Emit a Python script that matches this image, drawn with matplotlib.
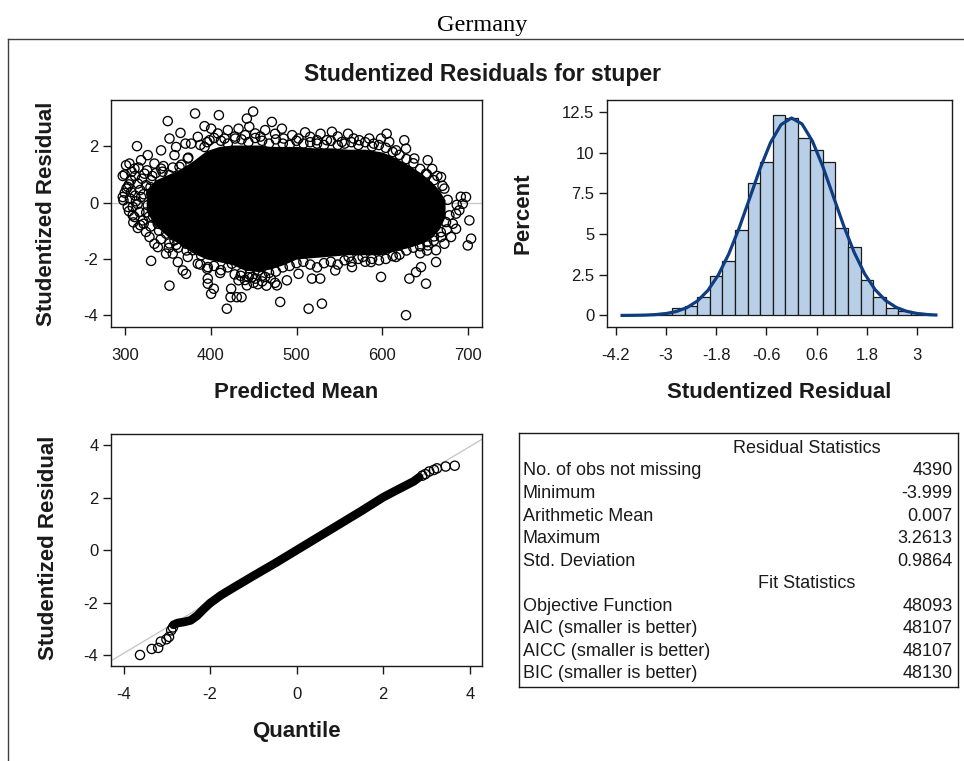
import matplotlib
matplotlib.use('Agg')
import matplotlib.pyplot as plt
from matplotlib.lines import Line2D

plt.rcParams['font.family'] = ['Liberation Sans', 'DejaVu Sans']
plt.rcParams['axes.unicode_minus'] = False

W, H = 964, 761

# ---------------- data ----------------
# residual vs predicted mean: solid black core (upper / lower edge)
core_x = [325, 335, 350, 365, 380, 395, 410, 425, 440, 455, 470, 485, 500,
          520, 540, 560, 580, 600, 615, 630, 645, 657, 666, 673]
core_hi = [0.4, 0.8, 1.0, 1.2, 1.5, 1.85, 2.0, 2.05, 2.05, 2.05, 2.0, 2.0,
           2.0, 1.95, 1.95, 1.9, 1.9, 1.8, 1.6, 1.35, 1.05, 0.75, 0.45, 0.1]
core_lo = [-0.3, -0.8, -1.2, -1.5, -1.8, -2.0, -2.1, -2.2, -2.4, -2.45,
           -2.35, -2.2, -2.0, -1.95, -1.9, -1.85, -1.85, -1.85, -1.7, -1.6,
           -1.45, -1.25, -0.95, -0.5]

# visible single points around the core
pred_top = [381.9, 409.6, 350.1, 449.5, 442.2, 471.3, 432.5, 463.5, 483, 485,
            502.4, 516, 541.3, 535.4, 552.9, 566.5, 451.9, 440.2, 428.6,
            523.8, 573.1, 584.7, 598.4, 608, 625.5, 627.5, 615.9, 637.2,
            652.8, 650.8, 668.3, 672.2, 314.3, 326.8, 352.1, 364.9, 370.7,
            392.9, 400.6, 342.3, 357.9, 363.8, 373.4, 352.1, 359.8, 377.3,
            385.1, 398.7, 408.4, 420, 416.2, 392.9, 445, 458, 475, 495, 510,
            528, 548, 560, 590, 605]
resid_top = [3.17, 3.11, 2.90, 3.24, 2.99, 2.87, 2.63, 2.58, 2.63, 2.28,
             2.28, 2.34, 2.52, 2.22, 2.16, 2.28, 2.46, 2.40, 2.28, 2.22,
             2.22, 2.28, 2.28, 2.16, 2.22, 1.92, 1.86, 1.57, 1.51, 1.03,
             0.91, 0.50, 2.01, 1.69, 2.28, 2.48, 2.10, 2.72, 2.63, 1.86,
             1.69, 1.27, 1.57, 0.98, 1.98, 2.10, 2.34, 2.22, 2.46, 2.58,
             2.28, 1.98, 2.70, 2.35, 2.45, 2.40, 2.50, 2.45, 2.35, 2.45,
             2.10, 2.45]

# crowded rim just above / below the solid core
pred_rim = [388, 396, 404, 412, 420, 428, 436, 444, 452, 460, 468, 476, 484,
            492, 500, 508, 516, 524, 532, 540, 548, 556, 564, 572, 580, 588,
            596, 604, 612, 620, 628, 636, 644, 652, 660]
resid_rim_hi = [2.05, 2.15, 2.3, 2.2, 2.1, 2.35, 2.25, 2.15, 2.3, 2.2, 2.1,
                2.25, 2.1, 2.05, 2.2, 2.1, 2.15, 2.1, 2.05, 2.2, 2.05, 2.1,
                2.15, 2.05, 2.15, 2.0, 2.05, 1.95, 1.8, 1.7, 1.55, 1.4, 1.2,
                1.0, 0.8]
resid_rim_lo = [-2.2, -2.35, -2.25, -2.4, -2.3, -2.55, -2.5, -2.65, -2.7,
                -2.6, -2.5, -2.45, -2.3, -2.25, -2.15, -2.1, -2.2, -2.3,
                -2.15, -2.1, -2.2, -2.05, -2.1, -2.0, -2.1, -2.0, -2.05, -2.0,
                -1.9, -1.85, -1.7, -1.6, -1.55, -1.4, -1.2]

pred_left = [297.7, 305.5, 298.5, 309.3, 315.2, 324.8, 334.6, 351.3, 303.5,
             309.3, 301.5, 311.3, 319, 323, 334.6, 342.3, 330.7, 315.2, 307.3,
             319, 303.5, 317.1, 326.8, 330.7, 321, 338.5, 348.1, 357.9, 363.8,
             297.7, 307.3, 324.8, 311.3, 328.8, 338.5, 348.1, 300, 312, 320,
             305, 318, 330, 300, 313, 322, 335, 305, 325, 315, 333, 318, 330,
             342, 302, 308, 316, 326, 336, 344, 356, 366, 374, 310, 322, 340,
             352, 362, 372, 328, 345, 360, 312, 306, 332]
resid_left = [0.95, 1.39, 0.085, -0.45, -0.90, -1.04, -1.46, -1.61, 0.56,
              -0.15, 1.33, 1.21, 1.51, 1.03, 1.39, 1.21, 0.80, 0.68, 0.38,
              0.20, -0.15, -0.33, -0.09, 0.32, -0.63, -0.75, -1.10, -1.34,
              -0.98, 0.20, 0.80, 0.62, -0.51, -1.22, -1.58, -1.81, 1.0, 0.95,
              0.85, 0.65, 0.45, 0.55, 0.35, 0.05, 0.3, 0.1, -0.3, -0.35,
              -0.05, -0.5, -0.8, -0.85, -1.3, 0.5, 1.1, 1.25, 1.15, 1.05,
              1.1, 1.25, 1.35, 1.6, -0.7, -0.75, -1.0, -1.45, -1.6, -1.7,
              -0.5, 1.3, -1.5, 0.25, 0.15, 0.95]

pred_low = [330.7, 352.1, 371.4, 396.7, 403.7, 411.1, 423.2, 418.9, 385.1,
            355.9, 371.4, 379.3, 373.4, 361.8, 388.9, 408.4, 396.7, 367.6,
            396.7, 400.6, 423.9, 481, 514.1, 529.6, 430.5, 436, 432.5, 442.2,
            477.2, 488.8, 518, 527.6, 545.1, 564.6, 463.5, 502.4, 455.8,
            424.7, 560.7, 440, 450, 460, 470, 445, 435, 455, 465, 448, 475]
resid_low = [-2.07, -2.95, -2.53, -2.70, -3.06, -2.50, -3.36, -3.77, -2.17,
             -1.81, -1.46, -1.69, -1.93, -2.11, -1.87, -1.81, -2.29, -2.41,
             -2.88, -3.24, -3.06, -3.53, -3.77, -3.59, -3.36, -3.36, -2.76,
             -2.94, -2.94, -2.76, -2.70, -2.70, -2.41, -2.29, -2.64, -2.53,
             -2.41, -2.17, -1.93, -2.75, -2.85, -2.8, -2.7, -2.55, -2.6,
             -2.9, -2.95, -2.65, -2.85]

pred_right = [697.4, 693.6, 689.6, 701.3, 685.8, 703.3, 699.4, 674.1, 680,
              672.2, 662.5, 645, 639.2, 631.4, 650.8, 598.4, 627.5, 662.5,
              652.8, 615.9, 586.7, 577, 668.3, 678, 685.8, 691.3, 686.6,
              676, 670, 664, 658, 682, 675, 668, 660, 652, 644]
resid_right = [0.20, -0.04, -0.27, -0.63, -0.93, -1.28, -1.52, -0.69, -1.22,
               -1.46, -2.11, -2.29, -2.47, -2.70, -2.88, -2.64, -4.0, -1.69,
               -1.52, -1.93, -2.11, -1.93, -1.22, -0.45, -0.39, 0.21, -0.08,
               0.1, 0.6, 0.95, 1.2, -0.75, -0.95, -1.05, -1.35, -1.7, -1.8]

# histogram of studentized residuals (percent), bin width 0.3
bin_left = [-4.05, -3.75, -3.45, -3.15, -2.85, -2.55, -2.25, -1.95, -1.65,
            -1.35, -1.05, -0.75, -0.45, -0.15, 0.15, 0.45, 0.75, 1.05, 1.35,
            1.65, 1.95, 2.25, 2.55, 2.85, 3.15]
bin_pct = [0.05, 0.05, 0.05, 0.14, 0.45, 0.55, 1.12, 2.4, 3.37, 5.25, 8.12,
           9.43, 12.3, 12.12, 10.9, 10.17, 9.42, 5.4, 4.2, 2.15, 1.12, 0.45,
           0.25, 0.12, 0.05]
curve_x = [-4.05, -3.75, -3.5, -3.25, -3.0, -2.75, -2.5, -2.25, -2.0, -1.75,
           -1.5, -1.25, -1.0, -0.75, -0.5, -0.25, 0.0, 0.25, 0.5, 0.75, 1.0,
           1.25, 1.5, 1.75, 2.0, 2.25, 2.5, 2.75, 3.0, 3.25, 3.45]
curve_pct = [0.002, 0.009, 0.022, 0.052, 0.117, 0.244, 0.48, 0.886, 1.531,
             2.485, 3.776, 5.387, 7.207, 9.038, 10.632, 11.728, 12.133,
             11.77, 10.709, 9.136, 7.31, 5.485, 3.859, 2.547, 1.576, 0.915,
             0.498, 0.254, 0.122, 0.055, 0.027]

# normal quantile plot: dense band and separate tail points
band_q = [-2.85, -2.75, -2.6, -2.45, -2.3, -2.15, -2.0, -1.75, -1.5, -1.0,
          -0.5, 0.0, 0.5, 1.0, 1.5, 2.0, 2.3, 2.5, 2.7, 2.83]
band_r = [-2.85, -2.78, -2.74, -2.68, -2.5, -2.25, -2.02, -1.72, -1.47,
          -0.98, -0.5, 0.0, 0.5, 1.0, 1.5, 2.02, 2.28, 2.45, 2.62, 2.78]
tail_q = [-3.62, -3.35, -3.20, -3.14, -3.01, -2.95, -2.90, -2.86, 2.9, 2.97,
          3.06, 3.17, 3.24, 3.44, 3.65]
tail_r = [-4.00, -3.77, -3.73, -3.49, -3.40, -3.31, -3.06, -2.95, 2.84, 2.9,
          3.0, 3.06, 3.12, 3.19, 3.22]

# statistics table
resid_labels = ['No. of obs not missing', 'Minimum', 'Arithmetic Mean',
                'Maximum', 'Std. Deviation']
resid_values = ['4390', '-3.999', '0.007', '3.2613', '0.9864']
fit_labels = ['Objective Function', 'AIC (smaller is better)',
              'AICC (smaller is better)', 'BIC (smaller is better)']
fit_values = ['48093', '48107', '48107', '48130']
resid_mean = 0.007
resid_std = 0.9864

# ---------------- styling ----------------
INK = '#1a1a1a'
MARK = dict(s=44, facecolors='none', edgecolors='black', linewidths=0.95)
LABEL = dict(fontsize=16, fontweight='bold', color=INK)


def box(px0, py0, px1, py1):
    """Axes rectangle from pixel corners."""
    return [px0 / W, 1 - py1 / H, (px1 - px0) / W, (py1 - py0) / H]


def style(ax):
    for sp in ax.spines.values():
        sp.set_color(INK)
        sp.set_linewidth(1.0)
    ax.tick_params(direction='out', length=6, width=1, color=INK,
                   labelsize=12, labelcolor=INK)
    ax.tick_params(axis='x', pad=9)
    ax.tick_params(axis='y', pad=3)


fig = plt.figure(figsize=(W / 100, H / 100), dpi=100)

fig.text(482 / W, 1 - 25 / H, 'Germany', ha='center', va='center',
         fontsize=17.5, family=['Liberation Serif', 'DejaVu Serif'])
fig.add_artist(Line2D([8 / W, 1], [1 - 39 / H, 1 - 39 / H],
                      color='#404040', lw=1))
fig.add_artist(Line2D([8 / W, 8 / W], [0, 1 - 39 / H], color='#404040', lw=1))
fig.text(482 / W, 1 - 75 / H, 'Studentized Residuals for stuper',
         ha='center', va='center', fontsize=16.5, fontweight='bold',
         color=INK)

# residual by predicted mean
ax1 = fig.add_axes(box(111, 100, 482, 327))
style(ax1)
ax1.axhline(0, color='#c8c8c8', lw=1, zorder=1)
ax1.fill_between(core_x, core_lo, core_hi, color='black', lw=0, zorder=2)
for xs, ys in [(pred_top, resid_top), (pred_rim, resid_rim_hi),
               (pred_rim, resid_rim_lo), (pred_left, resid_left),
               (pred_low, resid_low), (pred_right, resid_right)]:
    ax1.scatter(xs, ys, zorder=3, **MARK)
ax1.set_xlim(284, 716)
ax1.set_ylim(-4.42, 3.65)
ax1.set_xticks([300, 400, 500, 600, 700])
ax1.set_yticks([-4, -2, 0, 2])
ax1.set_xlabel('Predicted Mean', **LABEL)
ax1.set_ylabel('Studentized Residual', **LABEL)

# histogram with normal curve
ax2 = fig.add_axes(box(607, 100, 952, 327))
style(ax2)
ax2.bar(bin_left, bin_pct, width=0.3, align='edge', color='#b9cfe7',
        edgecolor=INK, linewidth=0.9, zorder=2)
ax2.plot(curve_x, curve_pct, color='#0f3d82', lw=2.3, zorder=3)
ax2.set_xlim(-4.41, 3.835)
ax2.set_ylim(-0.71, 13.24)
ax2.set_xticks([-4.2, -3, -1.8, -0.6, 0.6, 1.8, 3])
ax2.set_xticklabels(['-4.2', '-3', '-1.8', '-0.6', '0.6', '1.8', '3'])
ax2.set_yticks([0, 2.5, 5, 7.5, 10, 12.5])
ax2.set_yticklabels(['0', '2.5', '5', '7.5', '10', '12.5'])
ax2.set_xlabel('Studentized Residual', **LABEL)
ax2.set_ylabel('Percent', **LABEL)

# Q-Q plot
ax3 = fig.add_axes(box(111, 434, 482, 666))
style(ax3)
ax3.axline((0, resid_mean), slope=resid_std, color='#c8c8c8', lw=1,
           zorder=1)
ax3.plot(band_q, band_r, color='black', lw=6.2, solid_capstyle='round',
         zorder=2)
ax3.scatter(tail_q, tail_r, zorder=3, **MARK)
ax3.set_xlim(-4.29, 4.28)
ax3.set_ylim(-4.42, 4.43)
ax3.set_xticks([-4, -2, 0, 2, 4])
ax3.set_yticks([-4, -2, 0, 2, 4])
ax3.set_xlabel('Quantile', **LABEL)
ax3.set_ylabel('Studentized Residual', **LABEL)

for ax, yx, yy, xy in [(ax1, -0.173, 0.5, -0.289), (ax2, -0.244, 0.5, -0.289),
                       (ax3, -0.169, 0.509, -0.283)]:
    ax.yaxis.set_label_coords(yx, yy)
    ax.yaxis.label.set_va('center')
    ax.xaxis.set_label_coords(0.5, xy)
    ax.xaxis.label.set_va('center')

# statistics inset table
ax4 = fig.add_axes(box(519, 433, 958, 687))
ax4.set_xticks([])
ax4.set_yticks([])
for sp in ax4.spines.values():
    sp.set_color(INK)
    sp.set_linewidth(1.0)
rows = ([('Residual Statistics', None)] + list(zip(resid_labels, resid_values))
        + [('Fit Statistics', None)] + list(zip(fit_labels, fit_values)))
for i, (lab, val) in enumerate(rows):
    ypos = (687 - (448.3 + 22.57 * i)) / 254
    if val is None:
        ax4.text(0.655, ypos, lab, ha='center', va='center', fontsize=13,
                 color=INK)
    else:
        ax4.text(0.008, ypos, lab, ha='left', va='center', fontsize=13,
                 color=INK)
        ax4.text(0.988, ypos, val, ha='right', va='center', fontsize=13,
                 color=INK)

fig.savefig('out.png', dpi=100)
